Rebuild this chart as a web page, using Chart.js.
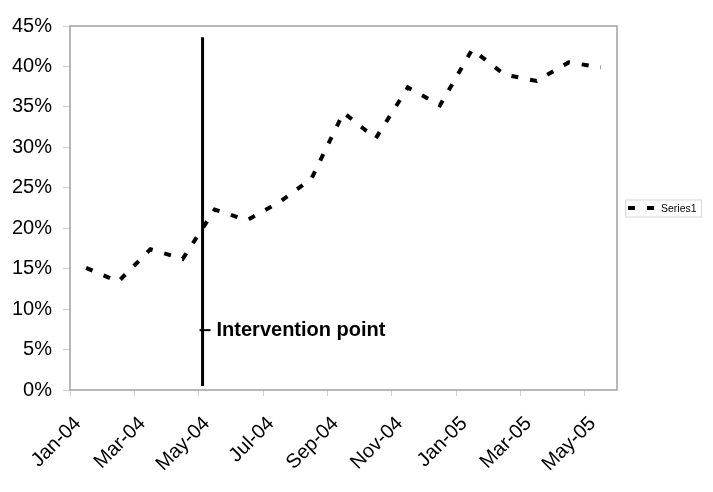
<!DOCTYPE html>
<html>
<head>
<meta charset="utf-8">
<script src="https://cdn.jsdelivr.net/npm/chart.js@4/dist/chart.umd.min.js"></script>
<style>
  body { margin: 0; background: #fff; }
</style>
</head>
<body>
<canvas id="chart" width="713" height="492"></canvas>
<script>
// monthly values, plotted mid-month
const months = ['Jan-04', 'Feb-04', 'Mar-04', 'Apr-04', 'May-04', 'Jun-04', 'Jul-04', 'Aug-04', 'Sep-04',
  'Oct-04', 'Nov-04', 'Dec-04', 'Jan-05', 'Feb-05', 'Mar-05', 'Apr-05', 'May-05'];
const series1 = [15.1, 13.4, 17.4, 16.2, 22.3, 21.0, 23.2, 26.1, 34.3, 31.1, 37.4, 35.2, 42.1, 39.0, 38.2, 40.5, 39.9];

const tickMonths = [0, 2, 4, 6, 8, 10, 12, 14, 16];
const tickLabels = ['Jan-04', 'Mar-04', 'May-04', 'Jul-04', 'Sep-04', 'Nov-04', 'Jan-05', 'Mar-05', 'May-05'];

const interventionMonth = 4.12;
const interventionSpan = [0.5, 43.6];
const interventionMark = 7.4;
const interventionText = 'Intervention point';

const FONT = "'Liberation Sans', Arial, sans-serif";

const extras = {
  id: 'extras',
  afterDraw(c) {
    const ctx = c.ctx, a = c.chartArea;
    const x = c.scales.x, y = c.scales.y;
    ctx.save();
    // plot frame
    ctx.strokeStyle = '#a0a0a0';
    ctx.lineWidth = 1.5;
    ctx.strokeRect(a.left, a.top, a.right - a.left, a.bottom - a.top);

    // intervention label
    const px = x.getPixelForValue(interventionMonth);
    const py = y.getPixelForValue(interventionMark);
    ctx.strokeStyle = '#000';
    ctx.lineWidth = 2;
    ctx.beginPath();
    ctx.moveTo(px - 3, py);
    ctx.lineTo(px + 8, py);
    ctx.stroke();
    ctx.fillStyle = '#000';
    ctx.font = 'bold 20px ' + FONT;
    ctx.textBaseline = 'middle';
    ctx.fillText(interventionText, px + 14, py);

    // legend
    const lx = a.right + 8, lw = 76, lh = 17;
    const ly = (a.top + a.bottom) / 2 - lh / 2;
    ctx.strokeStyle = '#d8d8d8';
    ctx.lineWidth = 1;
    ctx.strokeRect(lx + 0.5, ly + 0.5, lw, lh);
    ctx.strokeStyle = '#000';
    ctx.lineWidth = 4;
    ctx.setLineDash([7, 12]);
    ctx.beginPath();
    ctx.moveTo(lx + 3, ly + lh / 2);
    ctx.lineTo(lx + 29, ly + lh / 2);
    ctx.stroke();
    ctx.setLineDash([]);
    ctx.font = '10.5px ' + FONT;
    ctx.fillText('Series1', lx + 36, ly + lh / 2 + 1);
    ctx.restore();
  }
};

new Chart(document.getElementById('chart'), {
  type: 'line',
  data: {
    datasets: [{
      label: 'Series1',
      data: series1.map((v, i) => ({ x: i + 0.5, y: v })),
      borderColor: '#000',
      borderWidth: 4,
      borderDash: [7, 12],
      pointRadius: 0,
      fill: false
    }, {
      label: 'intervention',
      data: interventionSpan.map(v => ({ x: interventionMonth, y: v })),
      borderColor: '#000',
      borderWidth: 3,
      pointRadius: 0,
      fill: false
    }]
  },
  options: {
    responsive: false,
    animation: false,
    layout: { padding: { top: 26, right: 96, left: 0, bottom: 0 } },
    plugins: { legend: { display: false }, tooltip: { enabled: false } },
    scales: {
      x: {
        type: 'linear',
        min: 0,
        max: 17,
        afterBuildTicks: s => { s.ticks = tickMonths.map(v => ({ value: v })); },
        afterFit: s => { s.height = 102; },
        ticks: {
          autoSkip: false,
          maxRotation: 45,
          minRotation: 45,
          padding: 16,
          labelOffset: 8,
          color: '#000',
          font: { family: FONT, size: 20 },
          callback: (v, i) => tickLabels[i]
        },
        grid: { drawOnChartArea: false, tickLength: 6, color: '#d0d0d0' },
        border: { display: false }
      },
      y: {
        min: 0,
        max: 45,
        afterFit: s => { s.width = 70; },
        ticks: {
          stepSize: 5,
          padding: 11,
          color: '#000',
          font: { family: FONT, size: 20 },
          callback: v => v + '%'
        },
        grid: { drawOnChartArea: false, tickLength: 7, color: '#d0d0d0' },
        border: { display: false }
      }
    }
  },
  plugins: [extras]
});
</script>
</body>
</html>
